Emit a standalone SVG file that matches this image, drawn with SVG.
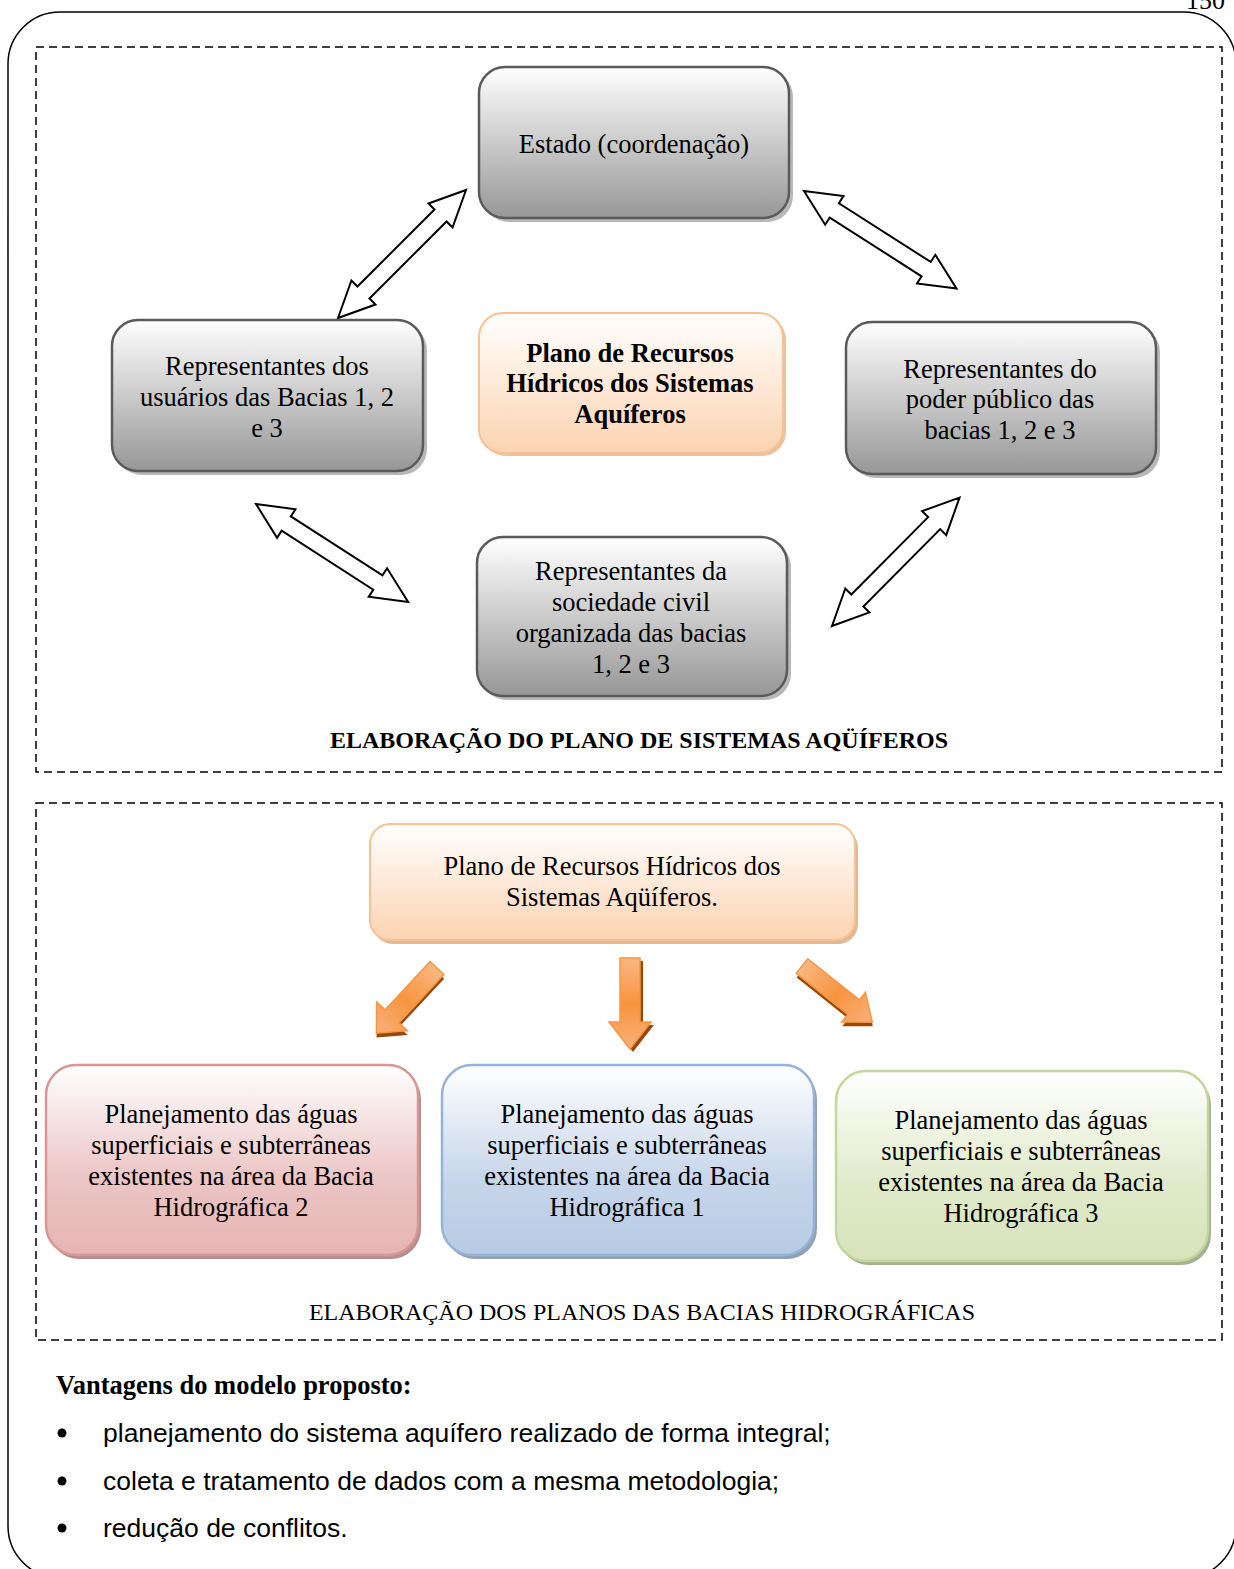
<svg xmlns="http://www.w3.org/2000/svg" width="1234" height="1569" viewBox="0 0 1234 1569">
<defs>
<linearGradient id="gGray" x1="0" y1="0" x2="0" y2="1"><stop offset="0" stop-color="#ffffff"/><stop offset="0.45" stop-color="#d0d0d0"/><stop offset="1" stop-color="#979797"/></linearGradient>
<linearGradient id="gOrange" x1="0" y1="0" x2="0" y2="1"><stop offset="0" stop-color="#ffffff"/><stop offset="1" stop-color="#fcd3b1"/></linearGradient>
<linearGradient id="gRed" x1="0" y1="0" x2="0" y2="1"><stop offset="0" stop-color="#ffffff"/><stop offset="0.6" stop-color="#ebc5c4"/><stop offset="1" stop-color="#e5b5b4"/></linearGradient>
<linearGradient id="gBlue" x1="0" y1="0" x2="0" y2="1"><stop offset="0" stop-color="#ffffff"/><stop offset="0.6" stop-color="#c7d6ea"/><stop offset="1" stop-color="#b6cbe4"/></linearGradient>
<linearGradient id="gGreen" x1="0" y1="0" x2="0" y2="1"><stop offset="0" stop-color="#ffffff"/><stop offset="0.6" stop-color="#e0eac9"/><stop offset="1" stop-color="#d6e3bb"/></linearGradient>
<linearGradient id="gArr" x1="0" y1="0" x2="1" y2="0"><stop offset="0" stop-color="#fab783"/><stop offset="0.5" stop-color="#f7953f"/><stop offset="1" stop-color="#f9b07a"/></linearGradient>
<path id="dbl" d="M0,0 L36,-17 L36,-8.5 L145,-8.5 L145,-17 L181,0 L145,17 L145,8.5 L36,8.5 L36,17 Z"/>
</defs>
<style>
.t{font-family:"Liberation Serif","Times New Roman",serif;font-size:26.5px;fill:#000;text-anchor:middle;}
.b{font-weight:bold;}
.s{font-family:"Liberation Sans",Arial,sans-serif;font-size:26.5px;fill:#000;}
.dash{fill:none;stroke:#000;stroke-width:1.5;stroke-dasharray:8 5;}
.gray{fill:url(#gGray);stroke:#5a5a5a;stroke-width:2.5;}
.sh{fill:#b8b8b8;}
.dblarrow{fill:#fff;stroke:#000;stroke-width:2;stroke-linejoin:miter;}
.oa{fill:url(#gArr);stroke:#f79646;stroke-width:1.5;}
.oas{fill:#984807;}
</style>

<text x="1186" y="9" style="font-family:'Liberation Serif',serif;font-size:26px;">150</text>
<rect x="8" y="12" width="1228" height="1566" rx="52" ry="52" fill="none" stroke="#000" stroke-width="1.5"/>

<rect class="dash" x="36" y="47" width="1186" height="725"/>
<rect class="dash" x="36" y="803" width="1186" height="537"/>

<g id="connectors">
<use href="#dbl" class="dblarrow" transform="translate(338,318) rotate(-45)"/>
<use href="#dbl" class="dblarrow" transform="translate(804,191) rotate(32.6)"/>
<use href="#dbl" class="dblarrow" transform="translate(256,504) rotate(32.8)"/>
<use href="#dbl" class="dblarrow" transform="translate(832,626) rotate(-45.2)"/>
<g transform="translate(437,968) rotate(132.9)">
<path class="oas" transform="translate(3,-3)" d="M0,-9.5 L66,-9.5 L66,-21 L89,0 L66,21 L66,9.5 L0,9.5 Z"/>
<path class="oa" d="M0,-9.5 L66,-9.5 L66,-21 L89,0 L66,21 L66,9.5 L0,9.5 Z"/>
</g>
<g transform="translate(630,958) rotate(90)">
<path class="oas" transform="translate(3,-3)" d="M0,-10 L64,-10 L64,-21 L91,0 L64,21 L64,10 L0,10 Z"/>
<path class="oa" d="M0,-10 L64,-10 L64,-21 L91,0 L64,21 L64,10 L0,10 Z"/>
</g>
<g transform="translate(802,966) rotate(38.6)">
<path class="oas" transform="translate(3,3)" d="M0,-9.3 L66,-9.3 L66,-19 L90,0 L66,19 L66,9.3 L0,9.3 Z"/>
<path class="oa" d="M0,-9.3 L66,-9.3 L66,-19 L90,0 L66,19 L66,9.3 L0,9.3 Z"/>
</g>
</g>

<g id="n-estado">
<rect class="sh" x="483" y="71" width="310" height="151" rx="26"/>
<rect class="gray" x="479" y="67" width="310" height="151" rx="26"/>
<text class="t" x="634" y="153">Estado (coordenação)</text>
</g>

<g id="n-usuarios">
<rect class="sh" x="116" y="324" width="311" height="151" rx="26"/>
<rect class="gray" x="112" y="320" width="311" height="151" rx="26"/>
<text class="t" x="267" y="375">Representantes dos</text>
<text class="t" x="267" y="406">usuários das Bacias 1, 2</text>
<text class="t" x="267" y="437">e 3</text>
</g>

<g id="n-poder">
<rect class="sh" x="850" y="326" width="310" height="152" rx="26"/>
<rect class="gray" x="846" y="322" width="310" height="152" rx="26"/>
<text class="t" x="1000" y="378">Representantes do</text>
<text class="t" x="1000" y="408">poder público das</text>
<text class="t" x="1000" y="439">bacias 1, 2 e 3</text>
</g>

<g id="n-sociedade">
<rect class="sh" x="481" y="541" width="310" height="159" rx="26"/>
<rect class="gray" x="477" y="537" width="310" height="159" rx="26"/>
<text class="t" x="631" y="580">Representantes da</text>
<text class="t" x="631" y="611">sociedade civil</text>
<text class="t" x="631" y="642">organizada das bacias</text>
<text class="t" x="631" y="673">1, 2 e 3</text>
</g>

<g id="n-plano">
<rect x="482" y="316" width="304" height="140" rx="24" fill="#e8c3a3"/>
<rect x="479" y="313" width="304" height="140" rx="24" fill="url(#gOrange)" stroke="#fac090" stroke-width="2"/>
<text class="t b" x="630" y="362">Plano de Recursos</text>
<text class="t b" x="630" y="392">Hídricos dos Sistemas</text>
<text class="t b" x="630" y="423">Aquíferos</text>
</g>

<text class="t b" x="639" y="748" style="font-size:24px">ELABORAÇÃO DO PLANO DE SISTEMAS AQÜÍFEROS</text>

<g id="n-plano2">
<rect x="373" y="828" width="485" height="116" rx="20" fill="#e2b996"/>
<rect x="370" y="824" width="485" height="116" rx="20" fill="url(#gOrange)" stroke="#fac090" stroke-width="2"/>
<text class="t" x="612" y="875">Plano de Recursos Hídricos dos</text>
<text class="t" x="612" y="906">Sistemas Aqüíferos.</text>
</g>

<g id="n-bacia2">
<rect x="49" y="1069" width="372" height="190" rx="30" fill="#b58f8e"/>
<rect x="46" y="1065" width="372" height="190" rx="30" fill="url(#gRed)" stroke="#d99694" stroke-width="2.5"/>
<text class="t" x="231" y="1123">Planejamento das águas</text>
<text class="t" x="231" y="1154">superficiais e subterrâneas</text>
<text class="t" x="231" y="1185">existentes na área da Bacia</text>
<text class="t" x="231" y="1216">Hidrográfica 2</text>
</g>

<g id="n-bacia1">
<rect x="445" y="1069" width="372" height="190" rx="30" fill="#8fa0b8"/>
<rect x="442" y="1065" width="372" height="190" rx="30" fill="url(#gBlue)" stroke="#95b3d7" stroke-width="2.5"/>
<text class="t" x="627" y="1123">Planejamento das águas</text>
<text class="t" x="627" y="1154">superficiais e subterrâneas</text>
<text class="t" x="627" y="1185">existentes na área da Bacia</text>
<text class="t" x="627" y="1216">Hidrográfica 1</text>
</g>

<g id="n-bacia3">
<rect x="839" y="1075" width="372" height="190" rx="30" fill="#a5b190"/>
<rect x="836" y="1071" width="372" height="190" rx="30" fill="url(#gGreen)" stroke="#c3d69b" stroke-width="2.5"/>
<text class="t" x="1021" y="1129">Planejamento das águas</text>
<text class="t" x="1021" y="1160">superficiais e subterrâneas</text>
<text class="t" x="1021" y="1191">existentes na área da Bacia</text>
<text class="t" x="1021" y="1222">Hidrográfica 3</text>
</g>

<text class="t" x="642" y="1320" style="font-size:24px">ELABORAÇÃO DOS PLANOS DAS BACIAS HIDROGRÁFICAS</text>

<text class="t b" x="56" y="1394" style="text-anchor:start;font-size:26.5px">Vantagens do modelo proposto:</text>
<circle cx="62" cy="1433" r="4.5"/>
<circle cx="62" cy="1481" r="4.5"/>
<circle cx="62" cy="1528" r="4.5"/>
<text class="s" x="103" y="1442">planejamento do sistema aquífero realizado de forma integral;</text>
<text class="s" x="103" y="1490">coleta e tratamento de dados com a mesma metodologia;</text>
<text class="s" x="103" y="1537">redução de conflitos.</text>
</svg>
